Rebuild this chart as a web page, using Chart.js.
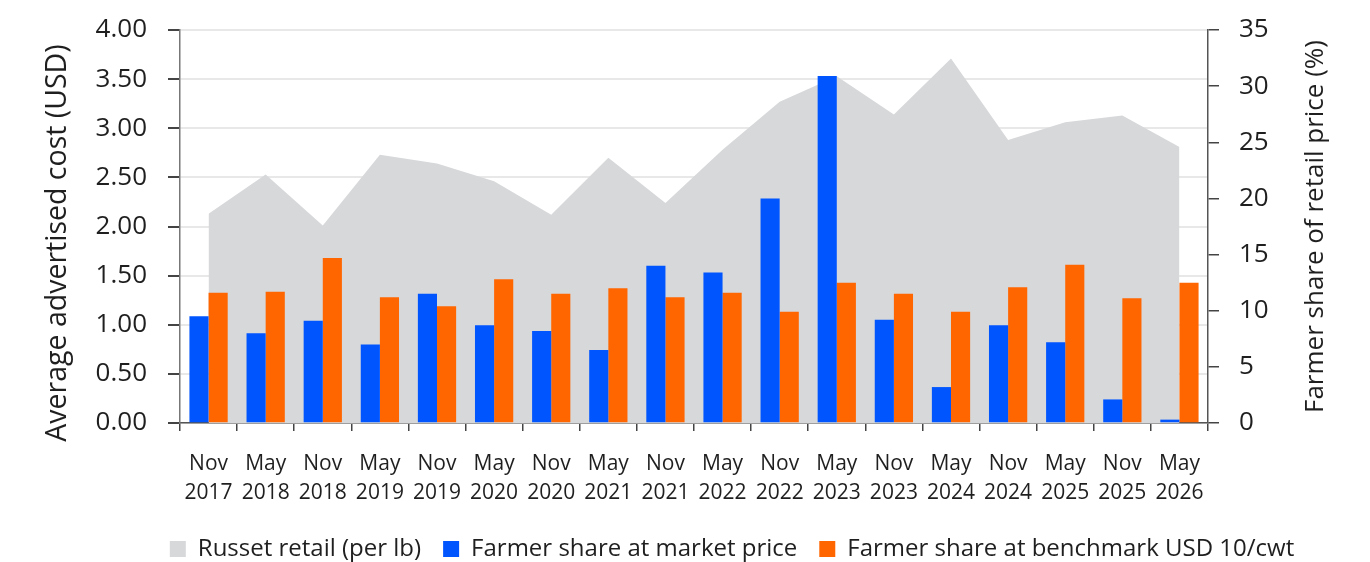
<!DOCTYPE html>
<html>
<head>
<meta charset="utf-8">
<script src="https://cdn.jsdelivr.net/npm/chart.js@4"></script>
<style>
  html, body { margin: 0; padding: 0; background: #fff; }
  #wrap { width: 1370px; height: 562px; }
</style>
</head>
<body>
<div id="wrap"><canvas id="chart"></canvas></div>
<script>
const periods = ["Nov 2017", "May 2018", "Nov 2018", "May 2019", "Nov 2019", "May 2020",
  "Nov 2020", "May 2021", "Nov 2021", "May 2022", "Nov 2022", "May 2023",
  "Nov 2023", "May 2024", "Nov 2024", "May 2025", "Nov 2025", "May 2026"];

// USD per lb (left axis)
const russetRetail = [2.13, 2.53, 2.01, 2.73, 2.64, 2.46, 2.12, 2.70, 2.24, 2.78,
  3.27, 3.53, 3.14, 3.71, 2.88, 3.06, 3.13, 2.81];

// percent of retail price (right axis)
const shareMarket = [9.5, 8.0, 9.1, 7.0, 11.5, 8.7, 8.2, 6.5, 14.0, 13.4,
  20.0, 30.9, 9.2, 3.2, 8.7, 7.2, 2.1, 0.3];
const shareBenchmark = [11.6, 11.7, 14.7, 11.2, 10.4, 12.8, 11.5, 12.0, 11.2, 11.6,
  9.9, 12.5, 11.5, 9.9, 12.1, 14.1, 11.1, 12.5];

const seriesNames = ["Russet retail (per lb)", "Farmer share at market price", "Farmer share at benchmark USD 10/cwt"];
const axisNames = ["Average advertised cost (USD)", "Farmer share of retail price (%)"];

const FONT = "'Open Sans', 'DejaVu Sans', sans-serif";
const TEXT = "#1f1f1f";

// nudge legend sideways to where it sits in the original
const legendShift = {
  id: "legendShift",
  afterLayout(chart) {
    const lg = chart.legend;
    if (!lg) return;
    lg.left += 47;
    lg.right += 47;
  }
};

// both axis titles read bottom-to-top, so draw them by hand
const axisTitles = {
  id: "axisTitles",
  afterDraw(chart) {
    const { ctx, chartArea } = chart;
    ctx.save();
    ctx.fillStyle = TEXT;
    ctx.textAlign = "center";
    ctx.textBaseline = "middle";

    ctx.font = "28.5px " + FONT;
    ctx.save();
    ctx.translate(58, 243);
    ctx.rotate(-Math.PI / 2);
    ctx.fillText(axisNames[0], 0, 0);
    ctx.restore();

    ctx.font = "26px " + FONT;
    ctx.save();
    ctx.translate(1316, (chartArea.top + chartArea.bottom) / 2);
    ctx.rotate(-Math.PI / 2);
    ctx.fillText(axisNames[1], 0, 0);
    ctx.restore();

    ctx.restore();
  }
};

const ctx = document.getElementById("chart").getContext("2d");
new Chart(ctx, {
  type: "bar",
  data: {
    labels: periods.map(p => p.split(" ")),
    datasets: [
      {
        type: "line",
        label: seriesNames[0],
        data: russetRetail,
        yAxisID: "y",
        backgroundColor: "#d7d8da",
        borderColor: "#d7d8da",
        borderWidth: 0,
        pointRadius: 0,
        fill: "origin",
        tension: 0,
        order: 2
      },
      {
        label: seriesNames[1],
        data: shareMarket,
        yAxisID: "y1",
        backgroundColor: "#0055ff",
        order: 1
      },
      {
        label: seriesNames[2],
        data: shareBenchmark,
        yAxisID: "y1",
        backgroundColor: "#ff6600",
        order: 1
      }
    ]
  },
  plugins: [legendShift, axisTitles],
  options: {
    responsive: true,
    maintainAspectRatio: false,
    animation: false,
    datasets: {
      bar: { categoryPercentage: 0.67, barPercentage: 1.0 }
    },
    layout: { padding: { top: 30, bottom: 0, left: 0, right: 0 } },
    plugins: {
      tooltip: { enabled: false },
      legend: {
        position: "bottom",
        maxHeight: 47,
        labels: {
          boxWidth: 16,
          boxHeight: 16,
          padding: 22,
          color: TEXT,
          font: { family: FONT, size: 24 },
          sort: (a, b) => a.datasetIndex - b.datasetIndex
        }
      }
    },
    scales: {
      x: {
        grid: { offset: true, drawOnChartArea: false, tickLength: 8, tickColor: "#444", lineWidth: 1.5 },
        border: { color: "#555", width: 1.5 },
        ticks: {
          color: TEXT,
          padding: 19,
          maxRotation: 0,
          autoSkip: false,
          font: { family: FONT, size: 21, lineHeight: 1.35 }
        },
        afterFit(scale) { scale.height = 92; }
      },
      y: {
        position: "left",
        min: 0,
        max: 4,
        grid: { color: "#e8e8e8", lineWidth: 2, tickLength: 12, tickColor: "#444" },
        border: { color: "#777", width: 1.5 },
        ticks: {
          stepSize: 0.5,
          padding: 21,
          color: TEXT,
          font: { family: FONT, size: 26, lineHeight: 0.65 },
          callback: v => v.toFixed(2)
        },
        afterFit(scale) { scale.width = 180; }
      },
      y1: {
        position: "right",
        min: 0,
        max: 35,
        grid: { drawOnChartArea: false, tickLength: 11, tickColor: "#444", lineWidth: 1.5 },
        border: { color: "#555", width: 1.5 },
        ticks: {
          stepSize: 5,
          padding: 20,
          color: TEXT,
          font: { family: FONT, size: 26, lineHeight: 0.65 }
        },
        afterFit(scale) { scale.width = 162; }
      }
    }
  }
});
</script>
</body>
</html>
